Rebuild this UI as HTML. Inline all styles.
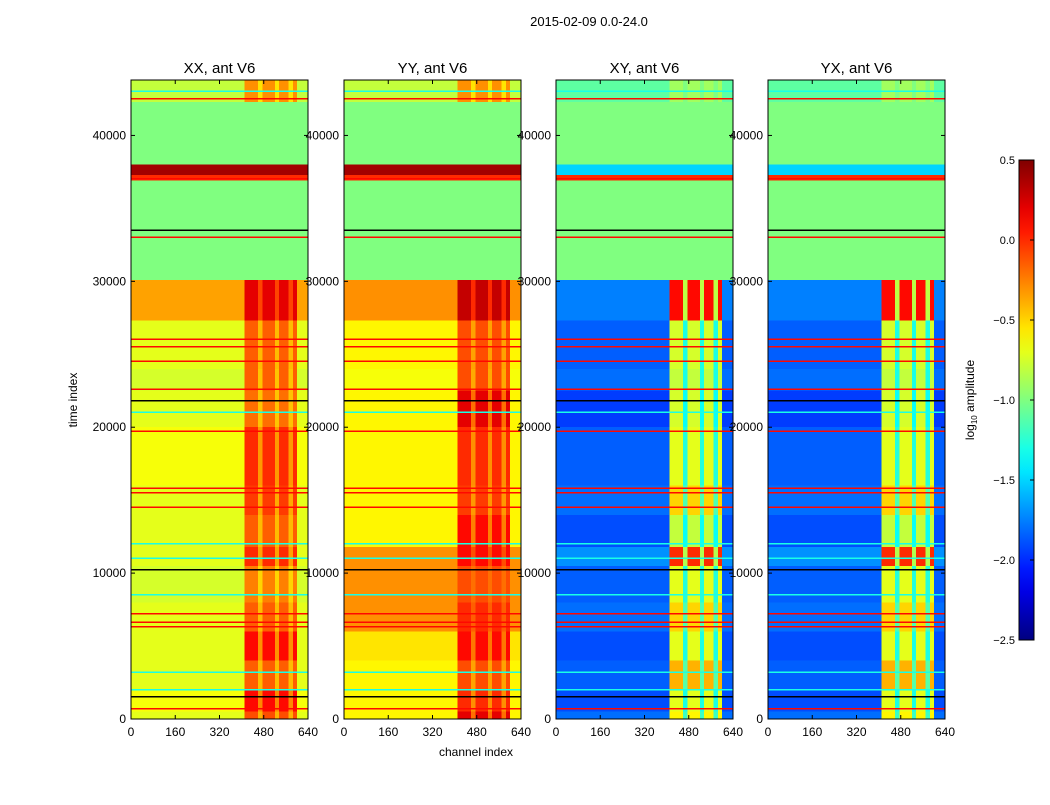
<!DOCTYPE html>
<html><head><meta charset="utf-8"><style>
body{margin:0;background:#fff;width:1050px;height:800px;overflow:hidden}
svg text{font-family:"Liberation Sans",sans-serif;fill:#000}
</style></head><body>
<svg id="fig" width="1050" height="800" xmlns="http://www.w3.org/2000/svg">
<text x="589" y="26" font-size="13" text-anchor="middle">2015-02-09 0.0-24.0</text>
</svg>
<script>
const panelTitles=["XX, ant V6","YY, ant V6","XY, ant V6","YX, ant V6"];
const xTicks=[0,160,320,480,640];
const yTicks=[0,10000,20000,30000,40000];
const cbTicks=[0.5,0.0,-0.5,-1.0,-1.5,-2.0,-2.5];
const timeEdges=[0,500,2000,4000,6000,8000,10500,11800,14000,16000,20000,22500,24000,27300,30100,33000,34000,36900,37300,38000,42300,43800];
const xxBase=[-0.7,-0.65,-0.7,-0.7,-0.7,-0.75,-0.7,-0.7,-0.7,-0.65,-0.7,-0.75,-0.7,-0.35,-1.0,-1.0,-1.0,0.0,0.4,-1.0,-0.8];
const xxHot=[-0.1,0.1,-0.15,0.1,-0.15,-0.25,0.0,-0.15,-0.05,0.0,-0.2,-0.15,-0.15,0.2,-1.0,-1.0,-1.0,0.0,0.4,-1.0,-0.3];
const yyBase=[-0.6,-0.6,-0.6,-0.55,-0.3,-0.3,-0.3,-0.6,-0.6,-0.6,-0.6,-0.65,-0.6,-0.3,-1.0,-1.0,-1.0,0.0,0.4,-1.0,-0.8];
const yyHot=[0.2,0.0,-0.1,0.1,0.0,-0.1,0.1,0.1,-0.05,0.0,0.2,-0.1,-0.1,0.3,-1.0,-1.0,-1.0,0.0,0.4,-1.0,-0.3];
const xyBase=[-1.8,-1.9,-1.85,-1.9,-1.8,-1.85,-1.7,-1.9,-1.8,-1.85,-1.95,-1.8,-1.85,-1.75,-1.0,-1.0,-1.0,0.0,-1.5,-1.0,-1.1];
const xyHot=[-0.6,-0.7,-0.4,-0.7,-0.5,-0.7,0.0,-0.8,-0.5,-0.7,-0.75,-0.8,-0.75,0.1,-1.0,-1.0,-1.0,0.0,-1.5,-1.0,-0.9];
const yxBase=[-1.8,-1.9,-1.85,-1.9,-1.8,-1.85,-1.7,-1.9,-1.8,-1.85,-1.95,-1.8,-1.85,-1.75,-1.0,-1.0,-1.0,0.0,-1.5,-1.0,-1.1];
const yxHot=[-0.6,-0.7,-0.4,-0.7,-0.5,-0.7,0.0,-0.8,-0.5,-0.7,-0.75,-0.8,-0.75,0.1,-1.0,-1.0,-1.0,0.0,-1.5,-1.0,-0.9];
const hotStart=[410,475,535,585];
const hotEnd=[460,520,570,600];
const lineTimes=[700,1500,2000,3200,6300,6600,7200,8500,10200,11000,12000,14500,15500,15800,19700,21000,21800,22600,24500,25500,26000,33000,33500,37000,42500,43000];
const lineVals=[0.1,-3,-1.3,-1.3,0.1,0.1,0.1,-1.3,-3,-1.3,-1.3,0.1,0.1,0.1,0.1,-1.3,-3,0.1,0.1,0.1,0.1,0.1,-3,0.1,0.1,-1.3];
const panelX=[131,344,556,768];
const PW=177,PT=80,PB=719,YMAX=43800,XMAX=640,VMIN=-2.5,VMAX=0.5;
const bases=[xxBase,yyBase,xyBase,yxBase],hots=[xxHot,yyHot,xyHot,yxHot];
const NS="http://www.w3.org/2000/svg",svg=document.getElementById('fig');
function jet(v){
  if(v<-2.9)return"#000";
  let t=Math.max(0,Math.min(1,(v-VMIN)/(VMAX-VMIN)));
  const f=(a)=>Math.max(0,Math.min(1,a));
  const r=f(1.5-Math.abs(4*t-3)),g=f(1.5-Math.abs(4*t-2)),b=f(1.5-Math.abs(4*t-1));
  return`rgb(${Math.round(r*255)},${Math.round(g*255)},${Math.round(b*255)})`;
}
function mk(tag,attrs,parent){const e=document.createElementNS(NS,tag);for(const k in attrs)e.setAttribute(k,attrs[k]);(parent||svg).appendChild(e);return e;}
const yS=t=>PB-(t/YMAX)*(PB-PT);
panelX.forEach((px,p)=>{
  const xS=c=>px+(c/XMAX)*PW;
  const g=mk('g',{'shape-rendering':'crispEdges'});
  
  
  for(let i=0;i<timeEdges.length-1;i++){
    const y0=yS(timeEdges[i+1]),y1=yS(timeEdges[i]);
    const b=bases[p][i],h=hots[p][i];
    const r=mk('rect',{x:xS(0),y:y0,width:PW,height:y1-y0,fill:jet(b)},g);
    
    
    mk('rect',{x:xS(hotStart[0]),y:y0,width:xS(hotEnd[3])-xS(hotStart[0]),height:y1-y0,fill:jet((b+h)/2)},g);
    for(let k=0;k<hotStart.length;k++){
      const c=mk('rect',{x:xS(hotStart[k]),y:y0,width:xS(hotEnd[k])-xS(hotStart[k]),height:y1-y0,fill:jet(h)},g);
      
      
    }
  }
  lineTimes.forEach((t,i)=>{
    const l=mk('rect',{x:xS(0),y:yS(t)-1,width:PW,height:1.5,fill:jet(lineVals[i])},g);
    
    
  });
  mk('rect',{x:px,y:PT,width:PW,height:PB-PT,fill:'none',stroke:'#000','stroke-width':1});
  const tt=mk('text',{x:px+PW/2,y:PT-7,'font-size':15,'text-anchor':'middle'});tt.textContent=panelTitles[p];
  
  xTicks.forEach(v=>{const x=xS(v);mk('line',{x1:x,x2:x,y1:PB,y2:PB-4,stroke:'#000'});mk('line',{x1:x,x2:x,y1:PT,y2:PT+4,stroke:'#000'});
    const t=mk('text',{x:x,y:PB+17,'font-size':12,'text-anchor':'middle'});t.textContent=v;
    });
  yTicks.forEach(v=>{const y=yS(v);mk('line',{x1:px,x2:px+4,y1:y,y2:y,stroke:'#000'});mk('line',{x1:px+PW,x2:px+PW-4,y1:y,y2:y,stroke:'#000'});
    const t=mk('text',{x:px-5,y:y+4,'font-size':12,'text-anchor':'end'});t.textContent=v;
    });
});
let t=mk('text',{x:476,y:756,'font-size':12,'text-anchor':'middle'});t.textContent='channel index';

t=mk('text',{x:77,y:400,'font-size':12,'text-anchor':'middle',transform:'rotate(-90 77 400)'});t.textContent='time index';

const CX=1019,CW=15,CT=160,CB=640;
const defs=mk('defs',{});const grad=mk('linearGradient',{id:'jet',x1:0,y1:1,x2:0,y2:0},defs);
for(let i=0;i<=20;i++){mk('stop',{offset:i/20,'stop-color':jet(VMIN+(VMAX-VMIN)*i/20)},grad);}
const cb=mk('rect',{x:CX,y:CT,width:CW,height:CB-CT,fill:'url(#jet)',stroke:'#000','stroke-width':1});

const cS=v=>CB-(v-VMIN)/(VMAX-VMIN)*(CB-CT);
cbTicks.forEach(v=>{const y=cS(v);mk('line',{x1:CX+CW-4,x2:CX+CW,y1:y,y2:y,stroke:'#000'});
  const tx=mk('text',{x:CX-4,y:y+4,'font-size':11,'text-anchor':'end'});tx.textContent=v.toFixed(1).replace('-','\u2212');
  });
t=mk('text',{x:974,y:400,'font-size':12,'text-anchor':'middle',transform:'rotate(-90 974 400)'});
t.innerHTML='log<tspan font-size="8" dy="3">10</tspan><tspan dy="-3"> amplitude</tspan>';

</script>
</body></html>
